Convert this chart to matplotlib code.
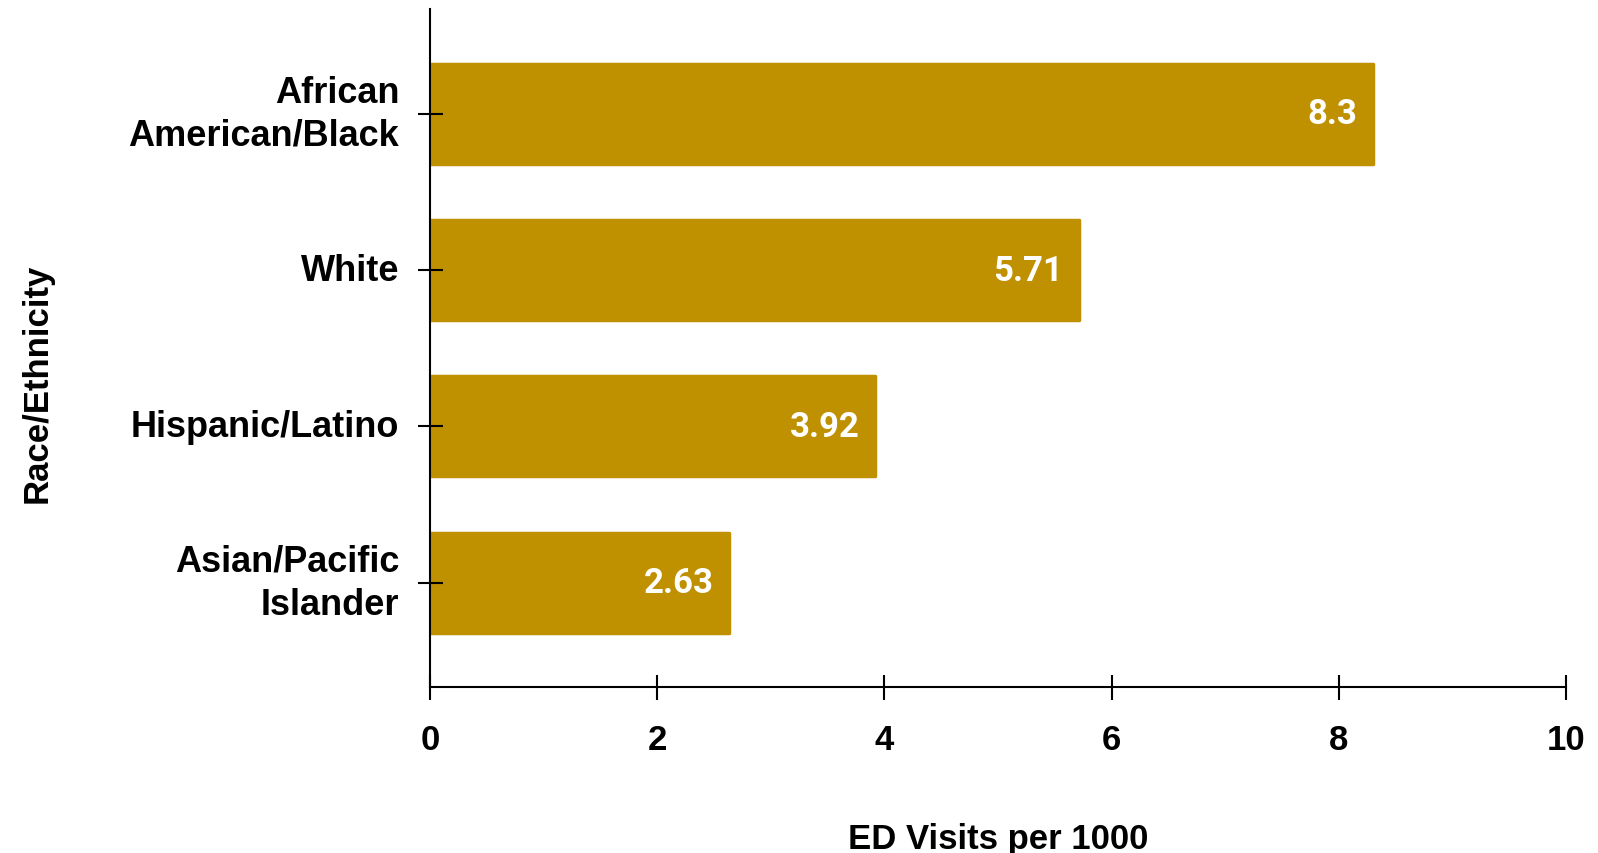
import matplotlib
matplotlib.use("Agg")
import matplotlib.pyplot as plt

categories = ["African\nAmerican/Black", "White", "Hispanic/Latino", "Asian/Pacific\nIslander"]
values = [8.3, 5.71, 3.92, 2.63]
value_labels = ["8.3", "5.71", "3.92", "2.63"]
xticks = [0, 2, 4, 6, 8, 10]

bar_color = "#BF9000"

fig = plt.figure(figsize=(15.98, 8.54), dpi=100)
ax = fig.add_axes([0.269, 0.194, 0.711, 0.794])

ypos = list(range(len(categories)))
bars = ax.barh(ypos, values, height=0.64, color=bar_color, edgecolor=bar_color,
               linewidth=2.5, zorder=1)
for b in bars:
    b.set_joinstyle("round")

for y, v, lab in zip(ypos, values, value_labels):
    ax.annotate(lab, xy=(v, y), xytext=(-11, 0), textcoords="offset points",
                ha="right", va="center", color="white", fontsize=25,
                fontweight="bold", family="Roboto", zorder=3)

ax.set_xlim(0, 10)
ax.set_ylim(3.67, -0.67)
ax.set_xticks(xticks)
ax.set_xticklabels([str(t) for t in xticks])
ax.set_yticks(ypos)
ax.set_yticklabels(categories, ha="right", va="center", linespacing=1.3)

for s in ["top", "right"]:
    ax.spines[s].set_visible(False)
for s in ["left", "bottom"]:
    ax.spines[s].set_linewidth(1.5)
    ax.spines[s].set_zorder(2.5)

ax.tick_params(axis="x", direction="inout", length=18, width=1.5, pad=17,
               labelsize=25)
ax.tick_params(axis="y", direction="inout", length=18, width=1.5, pad=13,
               labelsize=26)
for lab in ax.get_xticklabels() + ax.get_yticklabels():
    lab.set_fontweight("bold")
    lab.set_family("Liberation Sans")

ax.set_xlabel("ED Visits per 1000", fontsize=25, fontweight="bold",
              family="Liberation Sans")
ax.xaxis.set_label_coords(0.5, -0.198)
ax.set_ylabel("Race/Ethnicity", fontsize=25, fontweight="bold",
              family="Liberation Sans")
ax.yaxis.set_label_coords(-0.331, 0.45)

fig.savefig("out.png", dpi=100)
